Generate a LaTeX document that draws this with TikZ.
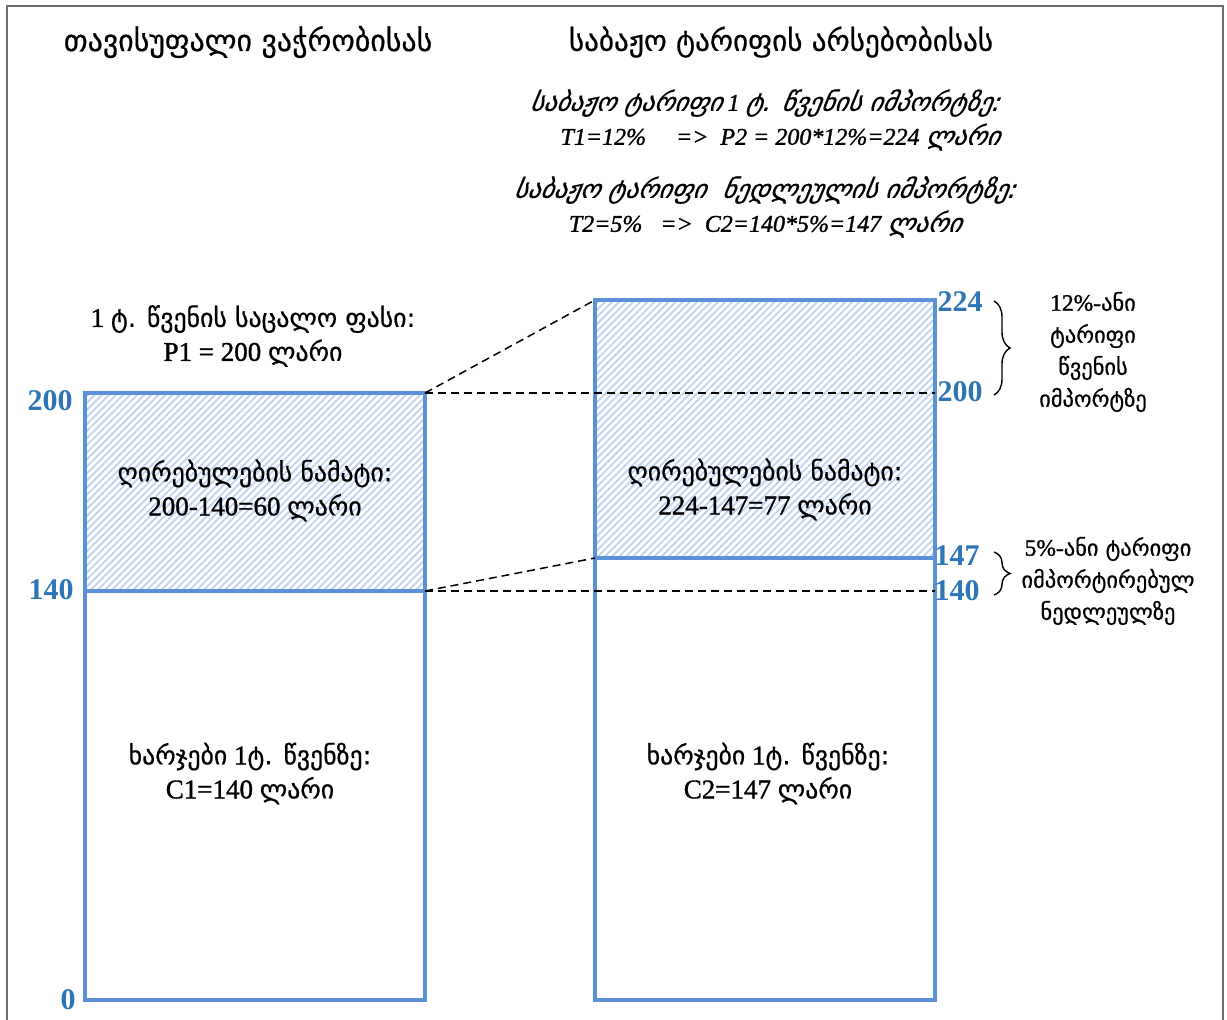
\documentclass[tikz,border=0pt]{standalone}
\usepackage{fontspec}
\setmainfont{Liberation Serif}
\newfontfamily\lat{Liberation Serif}[FakeBold=1.3]
\newfontfamily\geo{DejaVu Sans}[Scale=0.955,FakeBold=0.6]
\newfontfamily\geoit{DejaVu Sans}[Scale=1.067,FakeSlant=0.2,FakeBold=0.6]
\newcommand\G[1]{{\geo #1}}
\newcommand\GI[1]{{\geoit #1}}
\usetikzlibrary{patterns.meta,decorations.pathreplacing}
\definecolor{boxblue}{RGB}{91,145,214}
\definecolor{numblue}{RGB}{46,117,182}
\definecolor{hatchblue}{RGB}{190,210,242}
\definecolor{framegray}{RGB}{110,110,110}
\tikzset{
  x=1pt, y=-1pt,
  frameline/.style={draw=framegray, line width=2pt},
  addbox/.style={draw=boxblue, line width=3.5pt, inner sep=0pt, outer sep=0pt, minimum width=340pt,
     pattern={Lines[angle=45,distance=5pt,line width=1.8pt]}, pattern color=hatchblue},
  costbox/.style={draw=boxblue, line width=3.5pt, inner sep=0pt, outer sep=0pt, minimum width=340pt},
  title/.style={font=\fontsize{31.3}{33}\selectfont, inner sep=0pt},
  ital/.style={font=\lat\itshape\fontsize{24}{34}\selectfont, align=center, inner sep=0pt},
  txt/.style={font=\lat\fontsize{27}{34}\selectfont, align=center, inner sep=0pt},
  note/.style={font=\lat\fontsize{23.5}{32}\selectfont, align=center, inner sep=0pt},
  num/.style={font=\bfseries\fontsize{30}{30}\selectfont, text=numblue, inner sep=0pt},
  guide/.style={dash pattern=on 8pt off 5pt, line width=1.5pt, black},
  bracestyle/.style={decorate, decoration={brace, amplitude=16pt}, line width=1.4pt, black}
}
\begin{document}
\begin{tikzpicture}
\useasboundingbox (0,0) rectangle (1227,1020);
\draw[frameline] (7,1020) -- (7,6) -- (1223,6) -- (1223,1020);

% titles
\node[title] (tleft) at (248,42) {\G{თავისუფალი ვაჭრობისას}};
\node[title, font=\fontsize{30.5}{33}\selectfont] (tright) at (781,42) {\G{საბაჟო ტარიფის არსებობისას}};

\node[ital] (tar1) at (765,120) {\GI{საბაჟო ტარიფი} 1 \GI{ტ. წვენის იმპორტზე:}\\ \hspace*{30pt}T1=12\%\quad\ =>\ \ P2 = 200*12\%=224 \GI{ლარი}};
\node[ital] (tar2) at (765,207) {\GI{საბაჟო ტარიფი\ \ ნედლეულის იმპორტზე:}\\ T2=5\%\ \ \ =>\ \ C2=140*5\%=147 \GI{ლარი}};

% boxes
\node[addbox, minimum height=198pt] (laddb) at (255,492) {};
\node[costbox, minimum height=409pt] (lcost) at (255,795.5) {};
\node[addbox, minimum height=258pt] (raddb) at (765,429) {};
\node[costbox, minimum height=442pt] (rcost) at (765,779) {};

% guides
\draw[guide] (laddb.north east) -- (raddb.north west);
\draw[guide] (laddb.north east) -- (laddb.north east -| raddb.east);
\draw[guide] (laddb.south east) -- (raddb.south west);
\draw[guide] (laddb.south east) -- (laddb.south east -| rcost.east);

% texts
\node[txt] (price) at (253,336) {1 \G{ტ. წვენის საცალო ფასი:}\\ P1 = 200 \G{ლარი}};
\node[txt] (ladd) at (255,490.5) {\G{ღირებულების ნამატი:}\\ 200-140=60 \G{ლარი}};
\node[txt] (radd) at (765,489.5) {\G{ღირებულების ნამატი:}\\ 224-147=77 \G{ლარი}};
\node[txt] (lcostt) at (250,773.5) {\G{ხარჯები} 1\G{ტ. წვენზე:}\\ C1=140 \G{ლარი}};
\node[txt] (rcostt) at (768,773.5) {\G{ხარჯები} 1\G{ტ. წვენზე:}\\ C2=147 \G{ლარი}};

% numbers
\node[num] (nl200) at (50,401) {200};
\node[num] (nl140) at (51,590) {140};
\node[num] (nl0) at (68,1000) {0};
\node[num] (nr224) at (960,302) {224};
\node[num] (nr200) at (960,392) {200};
\node[num] (nr147) at (957,556) {147};
\node[num] (nr140) at (957,591) {140};

% braces
\coordinate (b1a) at (994,301);
\coordinate (b1b) at (994,395);
\coordinate (b2a) at (994,552);
\coordinate (b2b) at (994,595);
\draw[bracestyle] (b1a) -- (b1b);
\draw[bracestyle] (b2a) -- (b2b);

\node[note] (n12) at (1093,352) {12\%-\G{ანი}\\ \G{ტარიფი}\\ \G{წვენის}\\ \G{იმპორტზე}};
\node[note] (n5) at (1108,581) {5\%-\G{ანი ტარიფი}\\ \G{იმპორტირებულ}\\ \G{ნედლეულზე}};
\end{tikzpicture}
\end{document}
